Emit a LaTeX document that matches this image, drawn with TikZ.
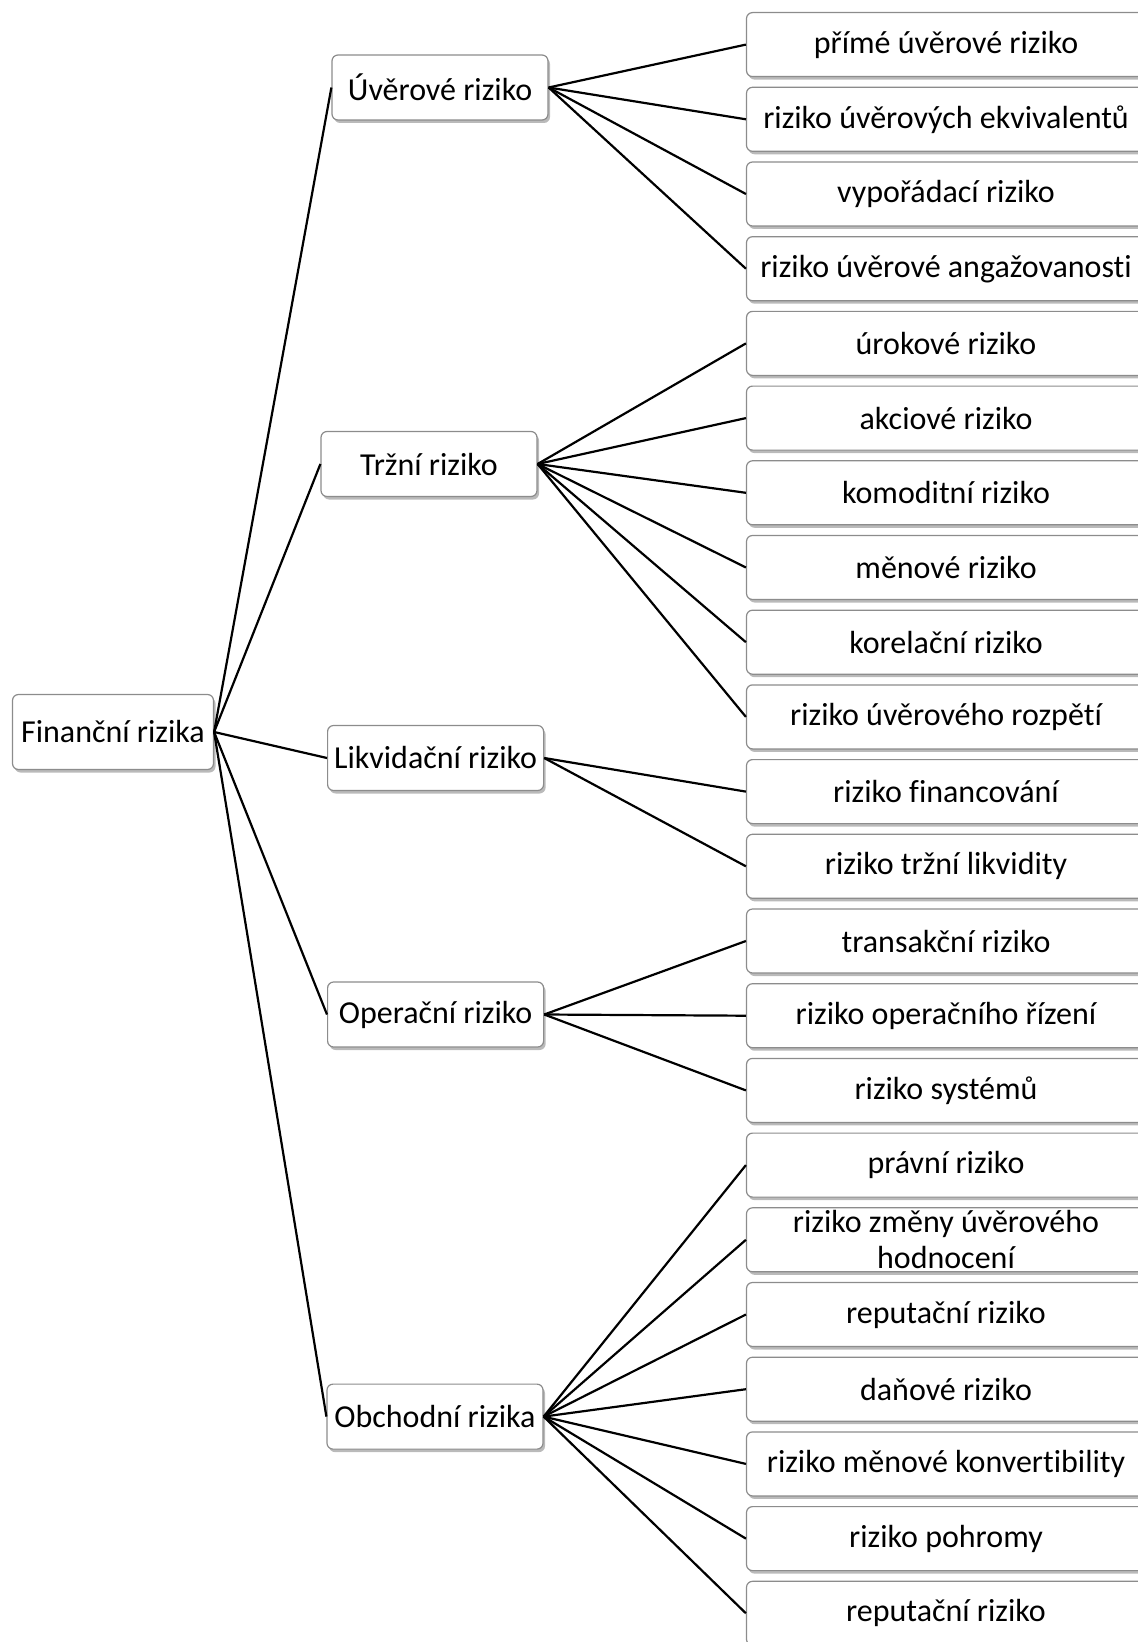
\documentclass[tikz,border=0pt]{standalone}
\usepackage{fontspec}
\setmainfont{Carlito}[RawFeature={-liga;-clig;-calt;-dlig}]
\usetikzlibrary{shadows}
\tikzset{
  riskbox/.style  = {shape=rectangle, rounded corners=3pt,
                     draw=black!45, line width=0.6pt, fill=white,
                     align=center, inner sep=0pt,
                     font=\fontsize{16}{18}\selectfont,
                     drop shadow={shadow xshift=1pt, shadow yshift=-1.5pt,
                                  fill=black!60, opacity=0.45}},
  riskroot/.style = {riskbox, minimum width=100.5pt, minimum height=37.5pt},
  riskkind/.style = {riskbox, minimum width=108pt, minimum height=32.5pt},
  risktype/.style = {riskbox, minimum width=199.5pt, minimum height=32pt},
  link/.style     = {line width=1.1pt}
}
\begin{document}
\begin{tikzpicture}[x=0.5pt,y=-0.5pt]
 \useasboundingbox (0,0) rectangle (1137,1642);

  % root
  \node [riskroot] (fin) at (113,732) {Finanční rizika};

  % main groups
  \node [riskkind] (uver) at (440,87.5)   {Úvěrové riziko};
  \node [riskkind] (trzni) at (429,464)   {Tržní riziko};
  \node [riskkind] (likv) at (435.6,758)  {Likvidační riziko};
  \node [riskkind] (oper) at (435.6,1014.5) {Operační riziko};
  \node [riskkind] (obch) at (435,1416.6) {Obchodní rizika};

  % single risks
  \node [risktype] (t0) at (946,44.6)   {přímé úvěrové riziko};
  \node [risktype] (t1) at (946,119.3)  {riziko úvěrových ekvivalentů};
  \node [risktype] (t2) at (946,194.0)  {vypořádací riziko};
  \node [risktype] (t3) at (946,268.7)  {riziko úvěrové angažovanosti};
  \node [risktype] (t4) at (946,343.4)  {úrokové riziko};
  \node [risktype] (t5) at (946,418.1)  {akciové riziko};
  \node [risktype] (t6) at (946,492.8)  {komoditní riziko};
  \node [risktype] (t7) at (946,567.5)  {měnové riziko};
  \node [risktype] (t8) at (946,642.2)  {korelační riziko};
  \node [risktype] (t9) at (946,716.9)  {riziko úvěrového rozpětí};
  \node [risktype] (t10) at (946,791.6) {riziko financování};
  \node [risktype] (t11) at (946,866.3) {riziko tržní likvidity};
  \node [risktype] (t12) at (946,941.0) {transakční riziko};
  \node [risktype] (t13) at (946,1015.7) {riziko operačního řízení};
  \node [risktype] (t14) at (946,1090.4) {riziko systémů};
  \node [risktype] (t15) at (946,1165.1) {právní riziko};
  \node [risktype] (t16) at (946,1239.8) {riziko změny úvěrového\\hodnocení};
  \node [risktype] (t17) at (946,1314.5) {reputační riziko};
  \node [risktype] (t18) at (946,1389.2) {daňové riziko};
  \node [risktype] (t19) at (946,1463.9) {riziko měnové konvertibility};
  \node [risktype] (t20) at (946,1538.6) {riziko pohromy};
  \node [risktype] (t21) at (946,1613.3) {reputační riziko};

  % connectors
  \draw [link] (fin.east) -- (uver.west);
  \draw [link] (fin.east) -- (trzni.west);
  \draw [link] (fin.east) -- (likv.west);
  \draw [link] (fin.east) -- (oper.west);
  \draw [link] (fin.east) -- (obch.west);

  \draw [link] (uver.east) -- (t0.west);
  \draw [link] (uver.east) -- (t1.west);
  \draw [link] (uver.east) -- (t2.west);
  \draw [link] (uver.east) -- (t3.west);

  \draw [link] (trzni.east) -- (t4.west);
  \draw [link] (trzni.east) -- (t5.west);
  \draw [link] (trzni.east) -- (t6.west);
  \draw [link] (trzni.east) -- (t7.west);
  \draw [link] (trzni.east) -- (t8.west);
  \draw [link] (trzni.east) -- (t9.west);

  \draw [link] (likv.east) -- (t10.west);
  \draw [link] (likv.east) -- (t11.west);

  \draw [link] (oper.east) -- (t12.west);
  \draw [link] (oper.east) -- (t13.west);
  \draw [link] (oper.east) -- (t14.west);

  \draw [link] (obch.east) -- (t15.west);
  \draw [link] (obch.east) -- (t16.west);
  \draw [link] (obch.east) -- (t17.west);
  \draw [link] (obch.east) -- (t18.west);
  \draw [link] (obch.east) -- (t19.west);
  \draw [link] (obch.east) -- (t20.west);
  \draw [link] (obch.east) -- (t21.west);
\end{tikzpicture}
\end{document}
